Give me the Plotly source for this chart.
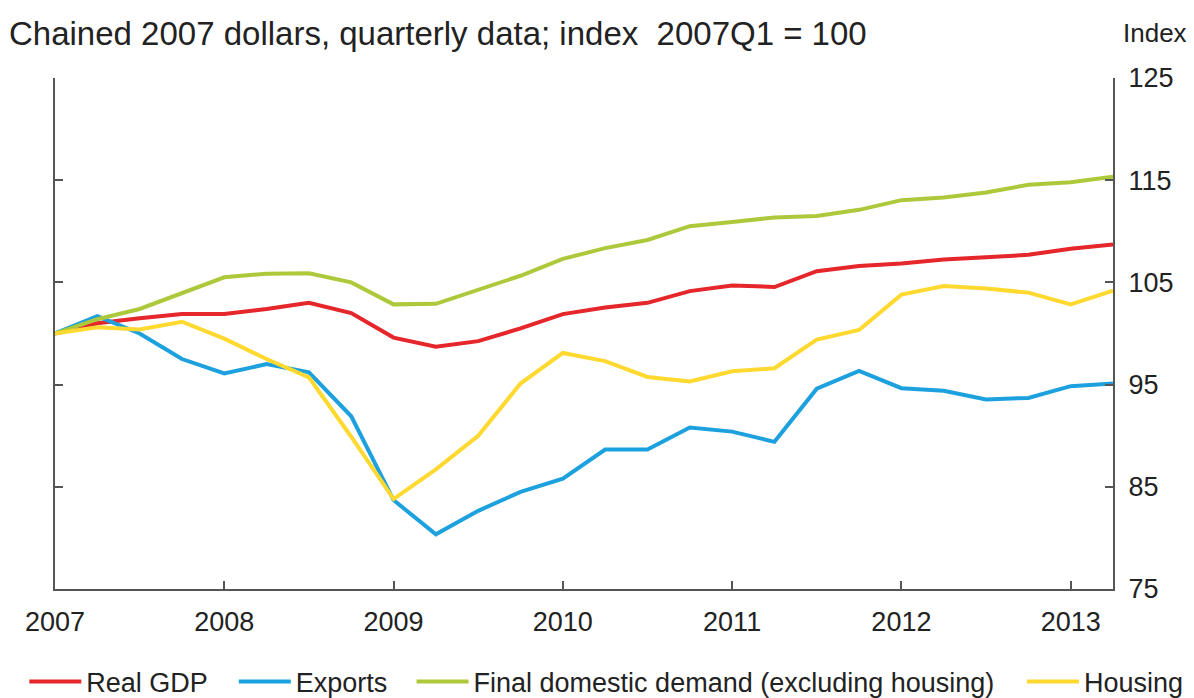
import plotly.graph_objects as go

# quarterly index, 2007Q1 = 100 (2007Q1 .. 2013Q2)
quarters = [2007 + i / 4 for i in range(26)]

real_gdp = [100, 101.0, 101.5, 101.9, 101.9, 102.4, 103.0, 102.0, 99.6, 98.7,
            99.25, 100.5, 101.9, 102.55, 103.0, 104.15, 104.7, 104.55, 106.1,
            106.6, 106.85, 107.25, 107.45, 107.7, 108.3, 108.7]
exports = [100, 101.7, 100.0, 97.5, 96.1, 97.0, 96.2, 91.9, 83.7, 80.35,
           82.65, 84.5, 85.8, 88.65, 88.65, 90.8, 90.4, 89.4, 94.6, 96.35,
           94.65, 94.4, 93.55, 93.7, 94.85, 95.1]
final_demand = [100, 101.4, 102.4, 104.0, 105.5, 105.85, 105.9, 105.0, 102.85,
                102.9, 104.3, 105.65, 107.3, 108.35, 109.15, 110.5, 110.9,
                111.35, 111.5, 112.1, 113.05, 113.3, 113.8, 114.55, 114.8,
                115.35]
housing = [100, 100.6, 100.4, 101.15, 99.5, 97.5, 95.7, 89.9, 83.8, 86.7,
           90.0, 95.1, 98.1, 97.3, 95.75, 95.3, 96.3, 96.6, 99.4, 100.35,
           103.8, 104.65, 104.4, 104.0, 102.85, 104.2]

year_ticks = [2007, 2008, 2009, 2010, 2011, 2012, 2013]
index_ticks = [75, 85, 95, 105, 115, 125]

FONT = 'Liberation Sans, Arial, sans-serif'
AXIS = '#555555'

# name, values, colour, legend id, legend x (paper)
series = [
    ('Real GDP', real_gdp, '#E5262B', 'legend', -0.029),
    ('Exports', exports, '#1DA1DE', 'legend2', 0.169),
    ('Final domestic demand (excluding housing)', final_demand, '#ADC93B',
     'legend3', 0.337),
    ('Housing', housing, '#FFD92F', 'legend4', 0.914),
]

fig = go.Figure()
legends = {}
for name, vals, colour, leg, lx in series:
    fig.add_trace(go.Scatter(x=quarters, y=vals, mode='lines', name=name,
                             legend=leg,
                             line=dict(color=colour, width=4)))
    legends[leg] = dict(orientation='h', x=lx, xanchor='left', y=-0.182,
                        yanchor='middle', font=dict(size=27), itemwidth=52,
                        bgcolor='rgba(0,0,0,0)')

# the page body adds an 8px offset, so the figure is sized to fit inside it
fig.update_layout(
    width=1186, height=690,
    margin=dict(l=47, r=81, t=70, b=109, autoexpand=False),
    paper_bgcolor='white', plot_bgcolor='white',
    font=dict(family=FONT, size=27, color='#222222'),
    showlegend=True,
    xaxis=dict(range=[2007, 2013.25], tickvals=year_ticks,
               ticktext=[str(y) for y in year_ticks],
               ticks='inside', ticklen=8, tickwidth=1.5, tickcolor=AXIS,
               showline=True, linecolor=AXIS, linewidth=2, automargin=False,
               showgrid=False, zeroline=False, ticklabelstandoff=8),
    yaxis=dict(range=[75, 125], side='right', tickvals=index_ticks,
               ticks='inside', ticklen=8, tickwidth=1.5, tickcolor=AXIS,
               showline=True, linecolor=AXIS, linewidth=2, mirror='ticks',
               automargin=False,
               showgrid=False, zeroline=False, ticklabelstandoff=8),
    annotations=[
        dict(text='Chained 2007 dollars, quarterly data; index  2007Q1 = 100',
             xref='paper', yref='paper', x=-0.045, y=1.088,
             xanchor='left', yanchor='middle', showarrow=False,
             font=dict(size=33)),
        dict(text='Index', xref='paper', yref='paper', x=1.072, y=1.088,
             xanchor='right', yanchor='middle', showarrow=False,
             font=dict(size=26)),
    ],
)
fig.update_layout(**legends)

fig.write_html('out.html')
